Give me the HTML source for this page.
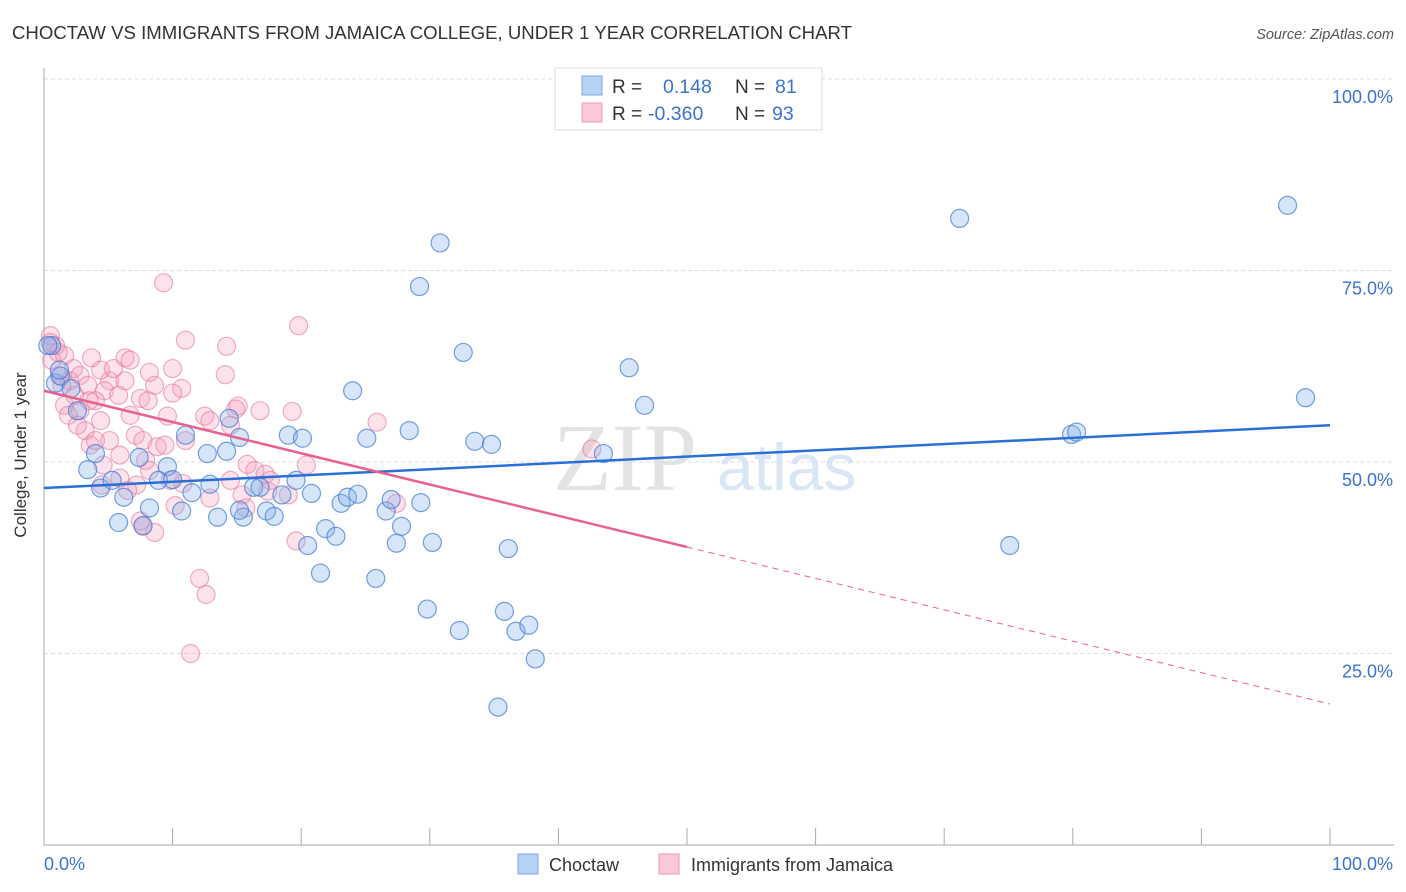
<!DOCTYPE html>
<html><head><meta charset="utf-8">
<style>
body{margin:0;background:#fff;font-family:"Liberation Sans",sans-serif;}
#wrap{position:relative;width:1406px;height:892px;overflow:hidden;}
</style></head>
<body>
<div id="wrap">
<svg id="svg" width="1406" height="892" xmlns="http://www.w3.org/2000/svg" font-family="Liberation Sans, sans-serif">
<text x="12" y="39" font-size="18.6" fill="#333">CHOCTAW VS IMMIGRANTS FROM JAMAICA COLLEGE, UNDER 1 YEAR CORRELATION CHART</text>
<text x="1394" y="39" font-size="14.5" fill="#555" font-style="italic" text-anchor="end">Source: ZipAtlas.com</text>
<g id="grid"></g>
<text x="553" y="490" font-size="96" fill="#ddd" font-family="Liberation Serif, serif" opacity="0.8">ZIP</text>
<text x="717" y="490" font-size="66" fill="#cfe0f5" opacity="0.8">atlas</text>
<g id="pts"></g>
<g id="lines"></g>
<text x="26" y="455" font-size="17" fill="#333" transform="rotate(-90 26 455)" text-anchor="middle">College, Under 1 year</text>
<g>
<rect x="555" y="68" width="267" height="62" fill="#fff" stroke="#ddd"/>
<rect x="582" y="76" width="20" height="19" fill="#b8d2f5" stroke="#7fa9e6"/>
<rect x="582" y="103" width="20" height="19" fill="#fac8d7" stroke="#ee9ab4"/>
<text x="612" y="93" font-size="19" fill="#333">R =</text>
<text x="663" y="93" font-size="19.5" fill="#3b73d1">0.148</text>
<text x="735" y="93" font-size="19" fill="#333">N =</text>
<text x="775" y="93" font-size="19.5" fill="#3b73d1">81</text>
<text x="612" y="120" font-size="19" fill="#333">R =</text>
<text x="648" y="120" font-size="19.5" fill="#3b73d1">-0.360</text>
<text x="735" y="120" font-size="19" fill="#333">N =</text>
<text x="772" y="120" font-size="19.5" fill="#3b73d1">93</text>
</g>
<g>
<rect x="518" y="854" width="20" height="20" fill="#b8d2f5" stroke="#7fa9e6"/>
<text x="549" y="871" font-size="18" fill="#333">Choctaw</text>
<rect x="659" y="854" width="20" height="20" fill="#fac8d7" stroke="#ee9ab4"/>
<text x="691" y="871" font-size="18" fill="#333">Immigrants from Jamaica</text>
</g>
</svg>
</div>
<script>
const yTicks=[25,50,75,100];
const yTickLabels=["25.0%","50.0%","75.0%","100.0%"];
const xTicks=[0,10,20,30,40,50,60,70,80,90,100];
const blueX=[96.7,71.2,30.8,29.2,32.6,45.5,24.0,46.7,98.1,79.9,80.3,28.4,33.5,34.8,43.5,25.1,19.0,20.1,15.2,14.2,12.7,11.0,14.4,7.4,9.6,4.0,3.4,4.4,5.3,6.2,8.9,10.0,11.5,12.9,8.2,10.7,5.8,7.7,13.5,15.5,16.3,16.8,17.3,17.9,18.5,19.6,20.8,23.1,23.6,24.4,26.6,27.0,29.3,27.8,30.2,27.4,36.1,21.9,22.7,20.5,21.5,25.8,29.8,35.8,32.3,36.7,37.7,38.2,35.3,75.1,0.9,1.3,2.1,0.6,2.6,15.2,0.3,1.2];
const blueY=[83.5,81.8,78.6,72.9,64.3,62.3,59.3,57.4,58.4,53.6,53.9,54.1,52.7,52.3,51.1,53.1,53.5,53.1,53.2,51.4,51.1,53.5,55.7,50.6,49.4,51.1,49.0,46.6,47.6,45.4,47.6,47.7,46.0,47.1,44.0,43.6,42.1,41.7,42.8,42.8,46.7,46.7,43.6,42.9,45.7,47.6,45.9,44.6,45.4,45.8,43.6,45.1,44.7,41.6,39.5,39.4,38.7,41.3,40.3,39.1,35.5,34.8,30.8,30.5,28.0,27.9,28.7,24.3,18.0,39.1,60.3,61.2,59.6,65.2,56.7,43.7,65.2,62.0];
const pinkX=[9.3,19.8,11.0,14.2,1.6,3.7,2.3,6.3,6.7,0.5,0.9,0.6,1.2,2.0,2.8,5.1,6.3,8.6,10.7,14.1,10.0,4.7,7.5,1.6,2.8,4.0,5.8,8.1,10.0,3.2,4.4,6.7,9.6,12.5,12.9,14.9,15.1,16.8,19.3,25.9,3.6,5.1,7.1,7.7,8.8,11.0,4.6,5.9,7.9,9.8,10.8,7.2,15.8,16.4,17.2,20.4,15.4,17.4,19.0,12.1,19.6,15.7,27.4,7.7,8.6,7.5,11.4,12.6,42.6,0.5,1.1,2.4,1.4,3.4,4.4,5.4,8.2,10.2,14.5,9.4,5.9,4.5,6.5,12.9,14.5,17.6,3.5,1.9,2.6,4.0,8.2];
const pinkY=[73.4,67.8,65.9,65.1,63.9,63.6,62.2,63.6,63.3,66.5,65.2,63.3,61.3,60.6,61.3,60.6,60.6,60.0,59.6,61.4,62.2,59.3,58.3,57.4,56.7,58.0,58.7,58.0,59.0,54.1,55.4,56.1,56.0,56.0,55.4,56.9,57.3,56.7,56.6,55.2,52.2,52.8,53.5,52.8,52.0,52.8,49.6,50.9,50.2,47.6,47.2,47.0,49.7,48.9,48.4,49.6,45.7,46.2,45.7,34.8,39.7,44.0,44.6,41.6,40.8,42.3,25.0,32.7,51.7,65.6,64.3,58.7,60.0,60.0,62.0,62.2,61.7,44.3,54.8,52.2,47.9,47.0,46.3,45.3,47.6,47.6,58.0,56.1,54.8,52.8,48.9];
const blueTrend=[[0,46.6],[100,54.8]];
const pinkTrendSolid=[[0,59.3],[50,38.9]];
const pinkTrendDash=[[50,38.9],[100,18.4]];

const X0=44,X1=1330,Y0=845,Y100=79;
const sx=v=>X0+(X1-X0)*v/100;
const sy=v=>Y0-(Y0-Y100)*v/100;
const NS="http://www.w3.org/2000/svg";
function mk(tag,attrs,parent){const e=document.createElementNS(NS,tag);for(const k in attrs)e.setAttribute(k,attrs[k]);parent.appendChild(e);return e;}
const grid=document.getElementById('grid');
yTicks.forEach((t,i)=>{
  const l=mk('line',{x1:X0,x2:1394,y1:sy(t),y2:sy(t),stroke:'#ddd','stroke-dasharray':'4 3'},grid);
  
  
  const tx=mk('text',{x:1393,y:sy(t)+24,'font-size':18,fill:'#3b73d1','text-anchor':'end'},grid);
  tx.textContent=yTickLabels[i];
  
  
});
const ax=mk('line',{x1:X0,x2:X0,y1:68,y2:Y0,stroke:'#aaa'},grid);


const bx=mk('line',{x1:X0,x2:1394,y1:Y0,y2:Y0,stroke:'#aaa'},grid);


xTicks.forEach(t=>{
  const l=mk('line',{x1:sx(t),x2:sx(t),y1:Y0-17,y2:Y0,stroke:'#aaa'},grid);
  
  
});
const xl=mk('text',{x:44,y:870,'font-size':18,fill:'#3b73d1'},grid);xl.textContent='0.0%';


const xr=mk('text',{x:1393,y:870,'font-size':18,fill:'#3b73d1','text-anchor':'end'},grid);xr.textContent='100.0%';



const pts=document.getElementById('pts');
pinkX.forEach((x,i)=>{
  const c=mk('circle',{cx:sx(x),cy:sy(pinkY[i]),r:9,fill:'rgba(245,160,190,0.3)',stroke:'rgba(230,120,160,0.6)','stroke-width':1.2},pts);
  
  
});
blueX.forEach((x,i)=>{
  const c=mk('circle',{cx:sx(x),cy:sy(blueY[i]),r:9,fill:'rgba(130,175,235,0.33)',stroke:'rgba(60,120,215,0.7)','stroke-width':1.2},pts);
  
  
});
const lines=document.getElementById('lines');
const b=mk('line',{x1:sx(blueTrend[0][0]),y1:sy(blueTrend[0][1]),x2:sx(blueTrend[1][0]),y2:sy(blueTrend[1][1]),stroke:'#2a6fd6','stroke-width':2.5},lines);


const p=mk('line',{x1:sx(pinkTrendSolid[0][0]),y1:sy(pinkTrendSolid[0][1]),x2:sx(pinkTrendSolid[1][0]),y2:sy(pinkTrendSolid[1][1]),stroke:'#e8628e','stroke-width':2.5},lines);


const pd=mk('line',{x1:sx(pinkTrendDash[0][0]),y1:sy(pinkTrendDash[0][1]),x2:sx(pinkTrendDash[1][0]),y2:sy(pinkTrendDash[1][1]),stroke:'#e8628e','stroke-width':1,'stroke-dasharray':'6 5'},lines);


</script>
</body></html>
